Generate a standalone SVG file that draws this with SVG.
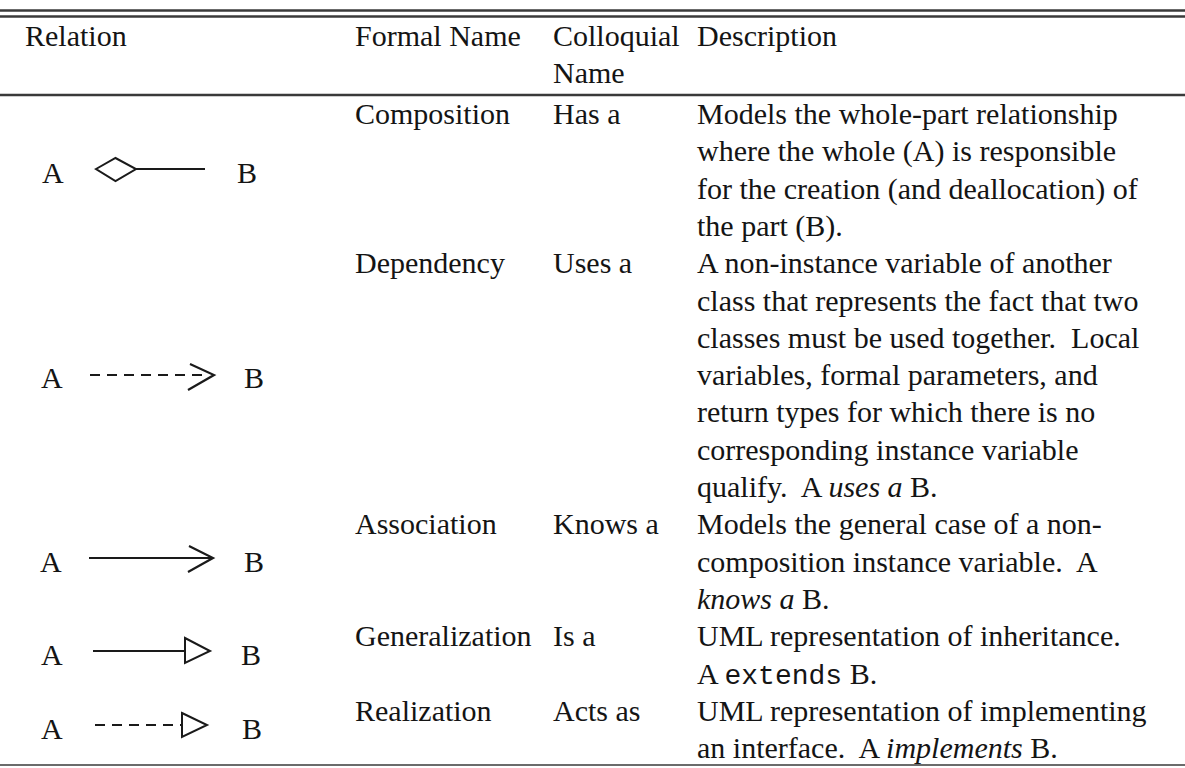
<svg xmlns="http://www.w3.org/2000/svg" width="1185" height="768" viewBox="0 0 1185 768">
  <style>
    text { font-family: "Liberation Serif", "Times New Roman", serif; font-size: 30px; fill: #141414; white-space: pre; }
    .mono { font-family: "Liberation Mono", "Courier New", monospace; font-size: 28px; }
    .it { font-style: italic; }
    .rule { stroke: #3a3a3a; fill: none; }
    .edge { stroke: #1a1a1a; stroke-width: 2.2; fill: none; }
    .dash { stroke-dasharray: 10 7; }
    .head { stroke: #1a1a1a; stroke-width: 2; fill: #ffffff; stroke-linejoin: miter; }
  </style>

  <!-- table rules -->
  <g id="rules">
    <line class="rule" x1="0" y1="10.5" x2="1185" y2="10.5" stroke-width="2.5"/>
    <line class="rule" x1="0" y1="16.5" x2="1185" y2="16.5" stroke-width="2.5"/>
    <line class="rule" x1="0" y1="95" x2="1185" y2="95" stroke-width="2.5"/>
    <line class="rule" x1="0" y1="765" x2="1185" y2="765" stroke-width="1.6" stroke="#555"/>
  </g>

  <!-- header row -->
  <g id="header">
    <text x="25" y="46">Relation</text>
    <text x="355" y="46">Formal Name</text>
    <text x="553" y="46">Colloquial</text>
    <text x="553" y="83">Name</text>
    <text x="697" y="46">Description</text>
  </g>

  <!-- relation symbols: A and B ends with their connectors -->
  <g id="connectors">
    <!-- composition: hollow diamond at A -->
    <path class="head" d="M96,169 L115.5,158 L136,169 L115.5,181 Z"/>
    <line class="edge" x1="136" y1="169" x2="205" y2="169"/>
    <!-- dependency: dashed line, open arrow -->
    <line class="edge dash" x1="90" y1="375" x2="208" y2="375"/>
    <polyline class="edge" points="190,364 214,375 188,390"/>
    <!-- association: solid line, open arrow -->
    <line class="edge" x1="89" y1="558" x2="212" y2="558"/>
    <polyline class="edge" points="189,546 213,558 188,572"/>
    <!-- generalization: solid line, hollow triangle -->
    <line class="edge" x1="93" y1="651" x2="185" y2="651"/>
    <path class="head" d="M185,638 L210,651 L185,663 Z"/>
    <!-- realization: dashed line, hollow triangle -->
    <line class="edge dash" x1="95" y1="725" x2="182" y2="725"/>
    <path class="head" d="M182,713 L207,725 L182,737 Z"/>
  </g>

  <g id="row-composition">
    <text x="42" y="183">A</text>
    <text x="237" y="183">B</text>
    <text x="355" y="124">Composition</text>
    <text x="553" y="124">Has a</text>
    <text x="697" y="124">Models the whole-part relationship</text>
    <text x="697" y="161.3">where the whole (A) is responsible</text>
    <text x="697" y="198.6">for the creation (and deallocation) of</text>
    <text x="697" y="235.9">the part (B).</text>
  </g>

  <g id="row-dependency">
    <text x="41" y="388">A</text>
    <text x="244" y="388">B</text>
    <text x="355" y="273.2">Dependency</text>
    <text x="553" y="273.2">Uses a</text>
    <text x="697" y="273.2">A non-instance variable of another</text>
    <text x="697" y="310.5">class that represents the fact that two</text>
    <text x="697" y="347.8">classes must be used together.  Local</text>
    <text x="697" y="385.1">variables, formal parameters, and</text>
    <text x="697" y="422.4">return types for which there is no</text>
    <text x="697" y="459.7">corresponding instance variable</text>
    <text x="697" y="497">qualify.  A <tspan class="it">uses a</tspan> B.</text>
  </g>

  <g id="row-association">
    <text x="40" y="572">A</text>
    <text x="244" y="572">B</text>
    <text x="355" y="534.3">Association</text>
    <text x="553" y="534.3">Knows a</text>
    <text x="697" y="534.3">Models the general case of a non-</text>
    <text x="697" y="571.6">composition instance variable.  A</text>
    <text x="697" y="608.9"><tspan class="it">knows a</tspan> B.</text>
  </g>

  <g id="row-generalization">
    <text x="41" y="665">A</text>
    <text x="241" y="665">B</text>
    <text x="355" y="646.2">Generalization</text>
    <text x="553" y="646.2">Is a</text>
    <text x="697" y="646.2">UML representation of inheritance.</text>
    <text x="697" y="683.5">A <tspan class="mono">extends</tspan> B.</text>
  </g>

  <g id="row-realization">
    <text x="41" y="739">A</text>
    <text x="242" y="739">B</text>
    <text x="355" y="720.8">Realization</text>
    <text x="553" y="720.8">Acts as</text>
    <text x="697" y="720.8">UML representation of implementing</text>
    <text x="697" y="758.1">an interface.  A <tspan class="it">implements</tspan> B.</text>
  </g>
</svg>
